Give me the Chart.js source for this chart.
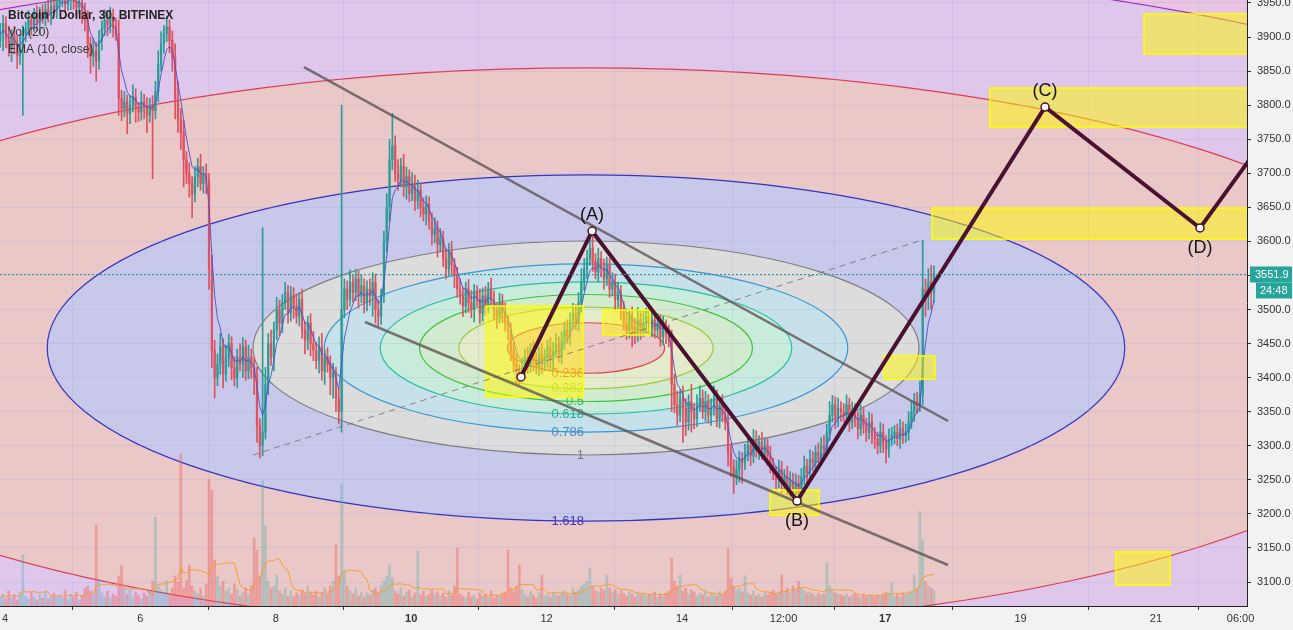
<!DOCTYPE html>
<html>
<head>
<meta charset="utf-8">
<title>Bitcoin / Dollar, 30, BITFINEX</title>
<script src="https://cdn.jsdelivr.net/npm/chart.js@4.4.1/dist/chart.umd.min.js"></script>
<style>
  html, body { margin: 0; padding: 0; background: #f2f2f2; overflow: hidden; }
  #wrap { width: 1293px; height: 630px; }
</style>
</head>
<body>
<div id="wrap"><canvas id="btcChart" width="1293" height="630"></canvas></div>
<script>
// Candles, bucketed to 1h (x = day of month)
const firstCandle = 3.93;
const candleStep = 1 / 24;
const firstOpen = 3895;

const closes = [
  3905,3920,3898,3884,3902,3890,3872,3888,3905,
  3912,3925,3918,3930,3922,3935,3928,3940,3932,3945,3938,3950,
  3958,3962,3948,3955,3966,3952,3944,3950,3938,3925,
  3890,3872,3880,3865,3895,
  3912,3925,3918,3930,3915,3905,
  3810,3795,3805,3788,3800,3812,3795,3790,3805,3798,3785,3800,3792,
  3820,3860,3890,3905,3915,3895,3870,
  3810,3780,3760,3720,3700,3685,3670,
  3695,3710,3685,3700,3690,
  3560,3440,3400,
  3420,3445,3405,3430,3450,3415,3400,3430,3420,3445,3410,3430,3415,3400,
  3330,3300,3320,
  3390,3450,3430,3470,3500,3480,
  3510,3525,3495,3520,3505,3490,3515,
  3470,3455,3480,3450,
  3440,3425,3445,3410,3430,3420,3400,3405,
  3370,3350,
  3500,
  3530,3515,3540,3525,3545,3520,3535,3510,3530,3520,3540,
  3500,3490,3520,
  3600,3650,
  3720,3740,
  3700,3690,3710,3680,3695,3670,3685,3660,3675,3650,3640,3655,3630,
  3610,3620,3595,3605,
  3575,3560,3585,3565,3550,3530,
  3520,3505,3530,3510,3500,3525,3515,3495,3520,3505,3530,3515,3500,3490,3510,3495,3480,3470,
  3440,3420,3410,3405,3415,
  3430,3420,3440,3425,3415,3435,3420,3430,3445,3425,3440,3450,3435,3455,
  3470,3460,3485,3495,3480,3510,3540,
  3560,3575,3590,3570,
  3555,3575,3560,3545,3565,
  3530,3540,3515,3525,3500,
  3480,3470,3490,3475,3465,3485,3470,3480,3490,3475,
  3485,3470,3480,3460,3475,3465,3455,
  3390,
  3360,3345,3370,3355,3335,3365,3350,3340,3360,3370,
  3350,3365,3345,3355,3370,3340,3360,3345,3335,
  3290,3270,3255,3265,3280,3275,
  3290,3300,3285,3310,3295,3305,3290,3300,3285,3270,
  3260,3250,3265,3245,3255,3240,3250,3235,3245,3230,
  3255,3270,3260,3280,3275,
  3290,3285,3300,3295,3320,
  3345,3360,3340,3355,3350,
  3345,3360,3335,3350,3340,3325,3345,3330,3320,3335,3315,
  3310,3300,3320,3305,3295,3310,3315,
  3320,3310,3325,3315,3320,3335,
  3350,3365,3360,3375,
  3530,
  3520,3540,3525,3552
];

// wick length above / below the body
const wickUp = [
  15,12,10,18,9,14,11,16,12,
  10,14,8,12,16,9,13,11,15,10,12,14,
  12,10,15,8,14,11,9,13,10,12,
  14,10,18,12,15,
  12,15,10,14,11,13,
  20,12,15,10,14,18,12,9,15,11,13,10,14,
  15,20,18,12,15,10,14,
  20,25,15,18,12,15,10,
  15,12,18,10,14,
  10,20,15,
  15,20,12,18,14,10,16,12,20,14,10,18,12,15,
  15,10,300,
  25,15,20,12,18,14,
  12,15,10,14,12,18,10,
  15,12,10,14,
  18,12,15,20,10,14,12,16,
  10,15,
  300,
  15,12,18,10,14,12,16,10,12,15,14,
  12,15,10,
  15,20,
  30,48,
  15,20,12,18,14,10,16,12,15,10,14,12,10,
  12,15,10,14,
  10,14,12,15,10,12,
  15,12,10,14,18,12,10,15,12,14,10,16,12,10,14,12,15,10,
  10,12,15,10,14,
  12,15,10,14,12,10,15,12,10,14,12,15,10,12,
  12,15,10,14,12,15,20,
  15,12,18,25,
  12,15,10,14,12,
  10,14,12,15,10,
  12,15,10,14,12,18,10,15,12,14,
  12,10,14,12,15,10,12,
  15,
  15,20,12,18,14,10,25,12,15,18,
  12,15,10,14,18,12,10,15,12,
  15,12,10,14,12,10,
  12,15,10,14,12,10,15,12,10,14,
  12,10,14,12,10,15,12,10,14,12,
  12,15,10,14,12,
  10,14,12,15,12,
  20,14,12,15,10,
  12,15,10,14,12,10,15,12,10,14,12,
  12,10,14,12,10,15,12,
  10,12,14,10,12,15,
  15,12,14,20,
  72,
  15,20,25,12
];

const wickDown = [
  10,25,14,12,20,15,18,12,103,
  12,9,15,10,13,18,8,12,10,14,9,11,
  10,14,12,9,15,11,13,10,18,16,
  20,25,15,30,12,
  14,10,16,12,15,10,
  25,18,12,30,15,10,20,14,12,18,25,10,100,
  12,15,10,14,12,18,20,
  30,20,25,40,15,20,35,
  12,15,10,14,20,
  30,25,30,
  12,15,20,10,14,18,12,15,10,20,14,12,16,25,
  25,18,15,
  10,15,12,20,14,18,
  14,10,15,12,18,10,14,
  12,20,14,18,
  15,12,18,14,20,12,25,30,
  20,18,
  30,
  12,15,10,14,12,18,10,15,12,14,30,
  20,15,12,
  10,15,
  20,15,
  12,15,10,14,18,12,10,15,12,14,10,16,12,
  15,12,18,10,
  12,15,10,14,18,12,
  12,15,10,14,12,18,10,15,12,14,10,12,15,18,10,14,12,15,
  15,12,20,15,10,
  10,14,12,15,10,12,14,10,15,12,14,10,12,15,
  14,10,12,15,10,12,14,
  12,15,10,14,
  10,14,12,15,10,
  12,10,15,12,14,
  10,14,12,30,15,12,14,10,15,12,
  15,12,10,14,12,15,10,
  40,
  12,15,10,50,20,12,30,15,12,10,
  10,14,12,15,10,12,14,10,12,
  20,15,25,12,18,30,
  10,12,14,10,12,15,10,12,14,10,
  10,14,12,15,10,12,14,10,12,11,
  10,12,14,10,12,
  12,10,14,12,10,
  12,10,15,12,14,
  10,12,14,10,12,15,10,12,14,10,12,
  14,12,10,15,20,12,10,
  12,10,14,12,10,12,
  10,14,12,10,
  15,
  30,20,25,15
];

const volumes = [
  90,120,70,150,80,110,60,130,510,
  100,70,140,90,60,120,80,150,70,100,130,90,
  110,80,160,70,120,90,140,60,100,180,
  200,150,120,810,260,
  130,90,150,80,120,100,
  300,410,180,120,160,90,140,110,70,130,100,150,250,
  890,200,160,130,250,120,180,
  300,240,1520,180,260,410,200,
  150,120,180,100,220,
  1270,1160,460,
  300,200,250,150,180,120,220,160,100,140,180,120,200,680,
  560,300,1250,
  800,250,180,200,310,150,
  120,180,100,150,90,130,110,
  160,120,200,140,
  110,150,90,130,180,120,200,250,
  610,300,
  1220,
  350,200,150,120,180,100,140,90,130,110,160,
  180,140,200,
  250,300,
  410,280,
  150,120,180,100,140,160,90,130,550,110,150,100,120,
  160,120,140,100,
  130,90,150,110,200,580,
  120,100,80,140,90,110,70,130,100,120,90,150,80,110,100,130,140,560,
  180,150,200,410,160,
  120,90,140,110,80,130,310,100,120,90,140,110,100,130,
  150,120,100,180,140,160,200,
  220,250,380,200,
  150,130,180,160,310,
  180,140,160,120,150,
  130,100,150,120,90,140,110,130,100,120,
  110,140,90,120,100,130,150,
  480,
  250,200,310,150,180,120,160,140,100,130,
  110,150,90,130,120,100,140,110,150,
  570,280,200,160,180,140,
  300,130,110,150,100,120,90,140,110,130,
  160,120,140,310,150,180,130,200,160,250,
  180,150,130,140,120,
  100,130,110,120,430,
  200,150,130,120,110,
  100,120,90,110,130,100,80,120,90,110,100,
  90,110,100,120,140,130,230,
  100,120,90,130,110,140,
  150,310,180,940,
  660,
  250,200,180,150
];

// axes
const viewStart = 3.926;
const viewEnd = 22.345;
const priceMin = 3064.8;
const priceMax = 3954.4;
const xTickValues = [4, 6, 8, 10, 12, 14, 15.5, 17, 19, 21, 22.25];
const xTickLabels = ['4', '6', '8', '10', '12', '14', '12:00', '17', '19', '21', '06:00'];
const boldDays = [10, 17];
const yTicks = [3100, 3150, 3200, 3250, 3300, 3350, 3400, 3450, 3500, 3550, 3600, 3650, 3700, 3750, 3800, 3850, 3900, 3950];
const lastPrice = 3551.9;
const countdown = '24:48';

// fib circles, anchored on the dashed diagonal
const fibStart = [7.663, 3286.5];
const fibEnd = [17.5, 3600.6];
const fibLevels = [0.236, 0.382, 0.5, 0.618, 0.786, 1, 1.618, 2.618, 3.618, 4.236];
const fibLabels = ['0.236', '0.382', '0.5', '0.618', '0.786', '1', '1.618', '2.618', '3.618', '4.236'];

// drawings
const trendUpper = [[8.416, 3856], [17.929, 3336.4]];
const trendLower = [[9.317, 3481.7], [17.929, 3125]];
const abcdPoints = [[11.622, 3401], [12.671, 3615.3], [15.699, 3218.9], [19.362, 3797.3], [21.651, 3619.7], [22.39, 3721]];
const abcdNames = ['', '(A)', '(B)', '(C)', '(D)', ''];
const zones = [
  [11.105, 3505.2, 12.538, 3371.6],
  [12.833, 3499.3, 13.527, 3462.6],
  [16.984, 3431.8, 17.737, 3398.0],
  [15.300, 3235.1, 16.023, 3198.4],
  [17.693, 3649.1, 23.5, 3603.5],
  [18.549, 3825.2, 23.5, 3768.0],
  [20.824, 3933.8, 23.5, 3875.1],
  [20.410, 3144.1, 21.208, 3095.6]
];

// ---- styles ----
const UP = '#2a9d97';
const DOWN = '#e0505e';
const fibFills = ['#ecc8c8', '#e4ebca', '#d2ebcf', '#c9ebdb', '#c7e1eb', '#dcdcdc', '#c8c8ea', '#eac8c8', '#dfc7eb', '#e9c5e3'];
const fibLines = ['#d84444', '#9ccc40', '#3cc43c', '#22c09c', '#3a96d6', '#7e7e7e', '#3434c4', '#e03c50', '#a030c0', '#e91e63'];
const fibText = ['#e0503c', '#a8cc44', '#3cbc3c', '#1fb096', '#3a8ed0', '#777777', '#3a3ac0', '#e03c50', '#a030c0', '#e91e63'];
const OUTSIDE = '#f0d8ee';

// ---- derived series ----
const times = closes.map((c, i) => firstCandle + i * candleStep);
const opens = closes.map((c, i) => (i === 0 ? firstOpen : closes[i - 1]));
const highs = closes.map((c, i) => Math.max(opens[i], c) + wickUp[i]);
const lows = closes.map((c, i) => Math.min(opens[i], c) - wickDown[i]);
const isUp = closes.map((c, i) => c >= opens[i]);

// EMA 10 on 30m bars ~ EMA 5 on these 1h buckets
function ema(values, period) {
  const k = 2 / (period + 1);
  let prev = values[0];
  return values.map((v, i) => {
    if (i > 0) prev = v * k + prev * (1 - k);
    return prev;
  });
}
function sma(values, period) {
  return values.map((v, i) => {
    const from = Math.max(0, i - period + 1);
    const part = values.slice(from, i + 1);
    return part.reduce((a, b) => a + b, 0) / part.length;
  });
}
const emaLine = ema(closes, 5);
const volAvg = sma(volumes, 10);

const pts = (arr) => arr.map(p => ({ x: p[0], y: p[1] }));

// ---- plugins ----
const fibPlugin = {
  id: 'fibCircles',
  beforeDraw(chart) {
    const { ctx, chartArea: a, scales: { x, y } } = chart;
    ctx.save();
    ctx.fillStyle = '#f2f2f2';
    ctx.fillRect(0, 0, chart.width, chart.height);
    ctx.beginPath();
    ctx.rect(a.left, a.top, a.right - a.left, a.bottom - a.top);
    ctx.clip();
    ctx.fillStyle = OUTSIDE;
    ctx.fillRect(a.left, a.top, a.right - a.left, a.bottom - a.top);

    const x1 = x.getPixelForValue(fibStart[0]), y1 = y.getPixelForValue(fibStart[1]);
    const x2 = x.getPixelForValue(fibEnd[0]), y2 = y.getPixelForValue(fibEnd[1]);
    const cx = (x1 + x2) / 2, cy = (y1 + y2) / 2;
    const rx = Math.abs(x2 - x1) / 2, ry = Math.abs(y2 - y1) / 2;

    for (let i = fibLevels.length - 1; i >= 0; i--) {
      ctx.beginPath();
      ctx.ellipse(cx, cy, rx * fibLevels[i], ry * fibLevels[i], 0, 0, Math.PI * 2);
      ctx.fillStyle = fibFills[i];
      ctx.fill();
    }
    ctx.lineWidth = 1.2;
    fibLevels.forEach((lvl, i) => {
      ctx.beginPath();
      ctx.ellipse(cx, cy, rx * lvl, ry * lvl, 0, 0, Math.PI * 2);
      ctx.strokeStyle = fibLines[i];
      ctx.stroke();
    });
    ctx.font = '13px Arial';
    ctx.textAlign = 'right';
    ctx.textBaseline = 'middle';
    fibLevels.forEach((lvl, i) => {
      ctx.fillStyle = fibText[i];
      ctx.fillText(fibLabels[i], cx - 2, cy + ry * lvl);
    });
    ctx.restore();
  }
};

const zonePlugin = {
  id: 'zones',
  afterDatasetDraw(chart, args) {
    if (chart.data.datasets[args.index].id !== 'ema') return;
    const { ctx, chartArea: a, scales: { x, y } } = chart;
    ctx.save();
    ctx.beginPath();
    ctx.rect(a.left, a.top, a.right - a.left, a.bottom - a.top);
    ctx.clip();
    zones.forEach(z => {
      const l = x.getPixelForValue(z[0]), t = y.getPixelForValue(z[1]);
      const r = x.getPixelForValue(z[2]), b = y.getPixelForValue(z[3]);
      ctx.fillStyle = 'rgba(255, 250, 0, 0.5)';
      ctx.fillRect(l, t, r - l, b - t);
      ctx.strokeStyle = '#ffff00';
      ctx.lineWidth = 1.5;
      ctx.strokeRect(l, t, r - l, b - t);
    });
    ctx.restore();
  }
};

const overlayPlugin = {
  id: 'overlay',
  afterDraw(chart) {
    const { ctx, chartArea: a, scales: { x, y } } = chart;
    ctx.save();

    // last price dotted line
    const py = Math.round(y.getPixelForValue(lastPrice)) + 0.5;
    ctx.strokeStyle = '#1f9c94';
    ctx.lineWidth = 1;
    ctx.setLineDash([2, 2]);
    ctx.beginPath();
    ctx.moveTo(a.left, py);
    ctx.lineTo(a.right, py);
    ctx.stroke();
    ctx.setLineDash([]);

    // ABCD labels
    ctx.fillStyle = '#151515';
    ctx.font = '18px Arial';
    ctx.textAlign = 'center';
    ctx.textBaseline = 'middle';
    abcdPoints.forEach((p, i) => {
      if (!abcdNames[i]) return;
      const px = x.getPixelForValue(p[0]);
      const yy = y.getPixelForValue(p[1]);
      const below = i === 2 || i === 4;
      ctx.fillText(abcdNames[i], px, below ? yy + 20 : yy - 16);
    });

    // price tag + countdown on the axis
    ctx.fillStyle = '#26a69a';
    ctx.fillRect(a.right + 3, py - 8, 42, 16);
    ctx.fillRect(a.right + 9, py + 8, 36, 16);
    ctx.fillStyle = '#ffffff';
    ctx.font = '11px Arial';
    ctx.textAlign = 'left';
    ctx.fillText(lastPrice.toFixed(1), a.right + 8, py);
    ctx.fillText(countdown, a.right + 13, py + 16);

    // legend
    ctx.fillStyle = '#222';
    ctx.font = 'bold 12px Arial';
    ctx.fillText('Bitcoin / Dollar, 30, BITFINEX', 8, 16);
    ctx.font = '12px Arial';
    ctx.fillStyle = '#333';
    ctx.fillText('Vol (20)', 8, 33);
    ctx.fillText('EMA (10, close)', 8, 50);
    ctx.restore();
  }
};

// ---- chart ----
const gridColor = 'rgba(150, 160, 220, 0.22)';

new Chart(document.getElementById('btcChart'), {
  type: 'bar',
  data: {
    datasets: [
      {
        id: 'vol', label: 'Vol (20)', yAxisID: 'yv', order: 9, grouped: false,
        data: volumes.map((v, i) => ({ x: times[i], y: v })),
        backgroundColor: isUp.map(u => (u ? 'rgba(38,166,154,0.28)' : 'rgba(239,83,80,0.38)')),
        barThickness: 2, borderWidth: 0
      },
      {
        id: 'volma', type: 'line', label: 'Vol MA', yAxisID: 'yv', order: 8,
        data: volAvg.map((v, i) => ({ x: times[i], y: v })),
        borderColor: '#f5a030', borderWidth: 1, pointRadius: 0, tension: 0
      },
      {
        id: 'wick', label: 'wick', order: 7, grouped: false,
        data: closes.map((c, i) => ({ x: times[i], y: [lows[i], highs[i]] })),
        backgroundColor: isUp.map(u => (u ? UP : DOWN)),
        barThickness: 1, borderWidth: 0
      },
      {
        id: 'body', label: 'body', order: 6, grouped: false,
        data: closes.map((c, i) => ({ x: times[i], y: [opens[i], c] })),
        backgroundColor: isUp.map(u => (u ? UP : DOWN)),
        barThickness: 1.6, borderWidth: 0, minBarLength: 1
      },
      {
        id: 'ema', type: 'line', label: 'EMA (10, close)', order: 5,
        data: emaLine.map((v, i) => ({ x: times[i], y: v })),
        borderColor: 'rgba(70, 80, 205, 0.9)', borderWidth: 1, pointRadius: 0, tension: 0
      },
      {
        id: 'fibdiag', type: 'line', label: 'fib', order: 4,
        data: pts([fibStart, fibEnd]),
        borderColor: 'rgba(120,120,120,0.9)', borderWidth: 1, borderDash: [6, 5], pointRadius: 0
      },
      {
        id: 'trend1', type: 'line', label: 'trend', order: 3,
        data: pts(trendUpper),
        borderColor: 'rgba(95, 85, 85, 0.8)', borderWidth: 2.5, pointRadius: 0
      },
      {
        id: 'trend2', type: 'line', label: 'trend', order: 3,
        data: pts(trendLower),
        borderColor: 'rgba(95, 85, 85, 0.8)', borderWidth: 2.5, pointRadius: 0
      },
      {
        id: 'abcd', type: 'line', label: 'ABCD', order: 1,
        data: pts(abcdPoints),
        borderColor: '#4a1230', borderWidth: 4, tension: 0,
        pointRadius: abcdPoints.map((p, i) => (i < abcdPoints.length - 1 ? 4 : 0)),
        pointBackgroundColor: '#ffffff', pointBorderColor: '#4a1230', pointBorderWidth: 1.5
      }
    ]
  },
  options: {
    responsive: false,
    animation: false,
    devicePixelRatio: 1,
    events: [],
    layout: { padding: 0, autoPadding: false },
    plugins: { legend: { display: false }, tooltip: { enabled: false } },
    scales: {
      x: {
        type: 'linear', min: viewStart, max: viewEnd, offset: false,
        afterBuildTicks: s => { s.ticks = xTickValues.map(v => ({ value: v })); },
        afterFit: s => { s.height = 24; s.paddingLeft = 0; s.paddingRight = 0; },
        ticks: {
          autoSkip: false, maxRotation: 0, padding: 2, color: '#333',
          font: ctx => ({ family: 'Arial', size: 11, weight: ctx.tick && boldDays.includes(ctx.tick.value) ? 'bold' : 'normal' }),
          callback: (v, i) => xTickLabels[i]
        },
        grid: { color: gridColor, tickLength: 4, tickColor: '#333' },
        border: { color: '#222', width: 1 }
      },
      y: {
        type: 'linear', position: 'right', min: priceMin, max: priceMax,
        afterBuildTicks: s => { s.ticks = yTicks.map(v => ({ value: v })); },
        afterFit: s => { s.width = 46; s.paddingTop = 0; s.paddingBottom = 0; },
        ticks: {
          autoSkip: false, padding: 6, color: '#333',
          font: { family: 'Arial', size: 11 },
          callback: v => v.toFixed(1)
        },
        grid: { color: gridColor, tickLength: 4, tickColor: '#333' },
        border: { color: '#222', width: 1 }
      },
      yv: { type: 'linear', display: false, min: 0, max: 6060 }
    }
  },
  plugins: [fibPlugin, zonePlugin, overlayPlugin]
});
</script>
</body>
</html>
